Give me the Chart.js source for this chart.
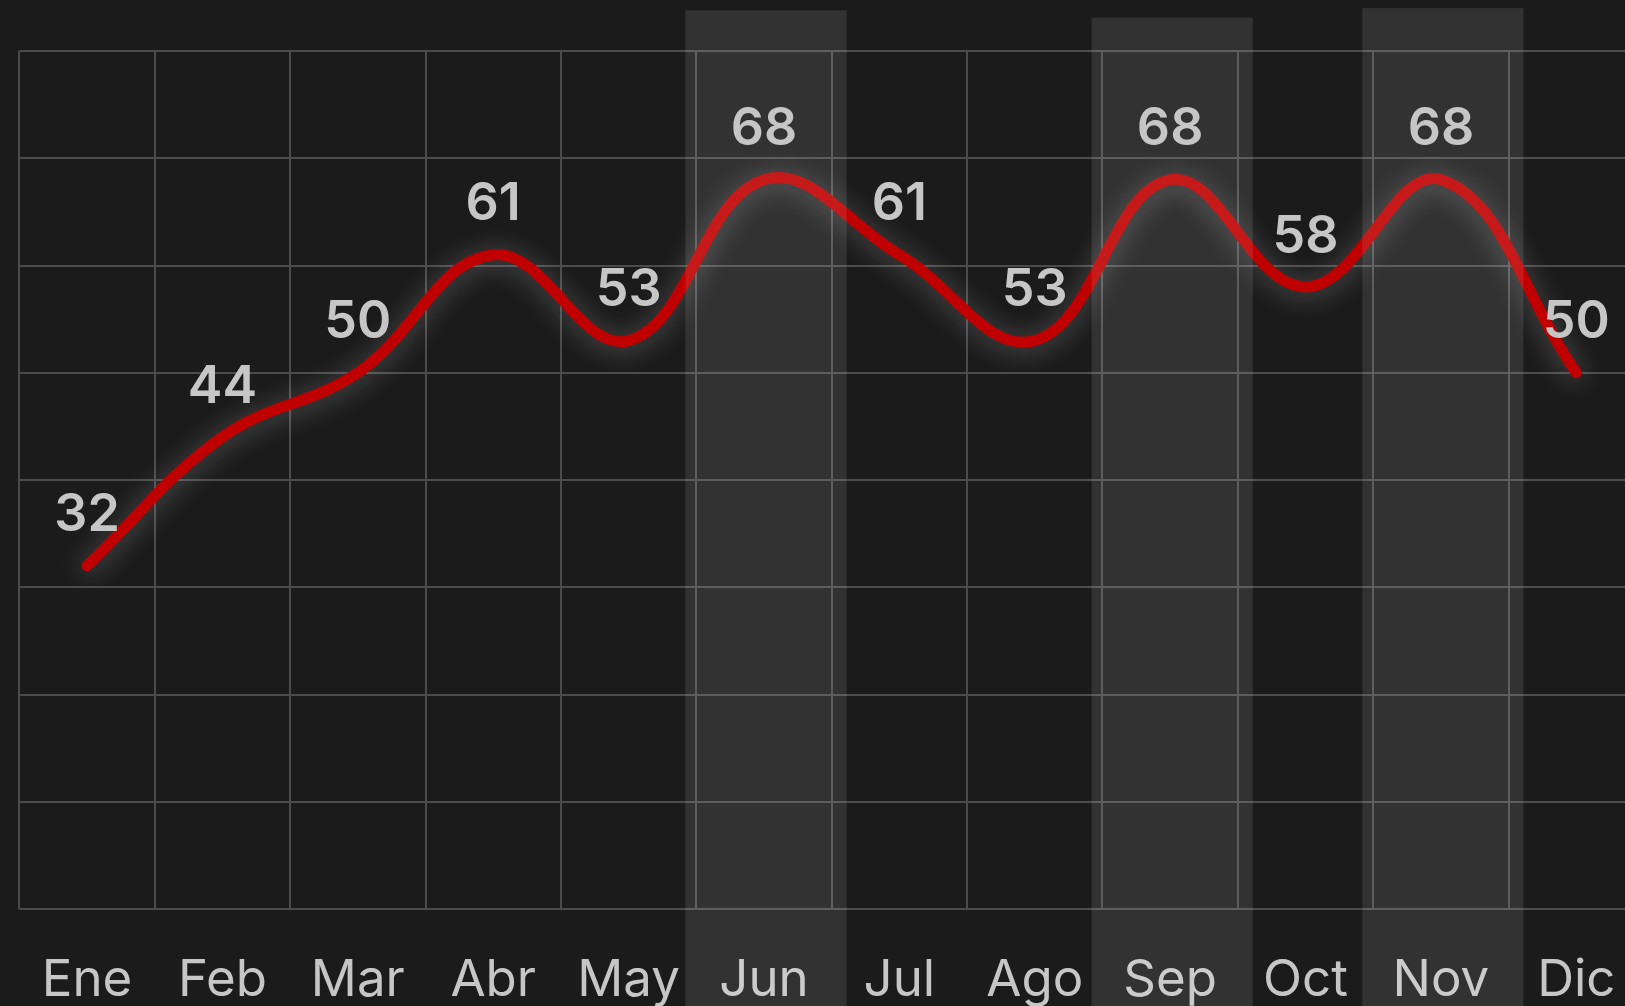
<!DOCTYPE html>
<html lang="es">
<head>
    <meta charset="UTF-8">
    <title>Mensual</title>
    <script src="https://cdn.jsdelivr.net/npm/chart.js"></script>
    <style>
        html, body {
            margin: 0;
            padding: 0;
            background-color: #1b1b1b;
            overflow: hidden;
        }
        .wrap {
            width: 1663px;
            height: 1006px;
            position: relative;
        }
    </style>
</head>
<body>
    <div class="wrap">
        <canvas id="chart"></canvas>
    </div>

    <script>
        // datos
        const months = ["Ene", "Feb", "Mar", "Abr", "May", "Jun", "Jul", "Ago", "Sep", "Oct", "Nov", "Dic"];
        const values = [32, 44, 50, 61, 53, 68, 61, 53, 68, 58, 68, 50];
        const highlightMonths = ["Jun", "Sep", "Nov"];
        const highlightTops = [83.8, 83.1, 84];

        const labelColor = "#c6c6c6";
        const gridColor = "#4b4b4b";

        // glow under the line
        const glowPlugin = {
            id: "glow",
            beforeDatasetDraw(chart) {
                const ctx = chart.ctx;
                ctx.save();
                ctx.shadowColor = "rgba(255, 255, 255, 0.3)";
                ctx.shadowBlur = 26;
                ctx.shadowOffsetY = 3;
            },
            afterDatasetDraw(chart) {
                chart.ctx.restore();
            }
        };

        // light columns over highlighted months
        const bandPlugin = {
            id: "bands",
            afterDatasetsDraw(chart) {
                const ctx = chart.ctx;
                const x = chart.scales.x;
                const y = chart.scales.y;
                const w = (x.getPixelForValue(1) - x.getPixelForValue(0)) * 1.19;
                ctx.save();
                ctx.fillStyle = "rgba(255, 255, 255, 0.1)";
                highlightMonths.forEach((m, i) => {
                    const cx = x.getPixelForValue(months.indexOf(m)) + 2;
                    const top = y.getPixelForValue(highlightTops[i]);
                    ctx.fillRect(cx - w / 2, top, w, chart.height - top);
                });
                ctx.restore();
            },
            afterDraw(chart) {
                // value labels
                const ctx = chart.ctx;
                const meta = chart.getDatasetMeta(0);
                ctx.save();
                ctx.font = "600 52px Inter";
                ctx.fillStyle = labelColor;
                ctx.textAlign = "center";
                ctx.textBaseline = "middle";
                meta.data.forEach((pt, i) => {
                    ctx.fillText(String(values[i]), pt.x, pt.y - 50);
                });
                ctx.restore();
            }
        };

        const ctx = document.getElementById("chart").getContext("2d");
        new Chart(ctx, {
            type: "line",
            data: {
                labels: months,
                datasets: [{
                    data: values,
                    borderColor: "#c00000",
                    borderWidth: 11,
                    borderCapStyle: "round",
                    borderJoinStyle: "round",
                    tension: 0.4,
                    pointRadius: 0,
                    fill: false
                }]
            },
            options: {
                responsive: true,
                maintainAspectRatio: false,
                animation: false,
                layout: {
                    padding: { left: 19, right: 19, top: 51, bottom: 0 }
                },
                plugins: {
                    legend: { display: false },
                    tooltip: { enabled: false }
                },
                scales: {
                    x: {
                        offset: true,
                        afterFit(scale) {
                            scale.height = 97;
                        },
                        grid: {
                            offset: true,
                            color: gridColor,
                            lineWidth: 2,
                            drawTicks: false
                        },
                        border: { display: false },
                        ticks: {
                            color: labelColor,
                            padding: 41,
                            maxRotation: 0,
                            font: { family: "Inter", size: 51, weight: "400", lineHeight: 1.2 }
                        }
                    },
                    y: {
                        min: 0,
                        max: 80,
                        ticks: { display: false, stepSize: 10 },
                        grid: {
                            color: gridColor,
                            lineWidth: 2,
                            drawTicks: false
                        },
                        border: { display: false }
                    }
                }
            },
            plugins: [glowPlugin, bandPlugin]
        });
    </script>
</body>
</html>
